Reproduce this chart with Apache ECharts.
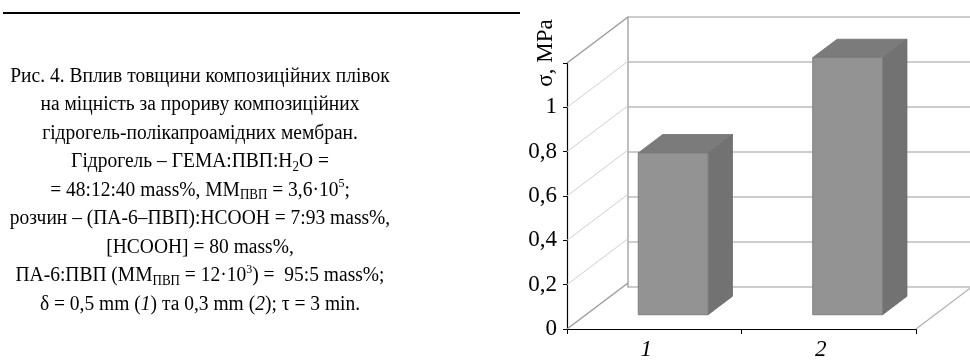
<!DOCTYPE html>
<html><head><meta charset="utf-8">
<script src="https://cdn.jsdelivr.net/npm/echarts@6.0.0/dist/echarts.min.js"></script>
<style>html,body{margin:0;padding:0;background:#fff}#c{width:970px;height:361px}</style>
</head><body><div id="c"></div>
<script>
// ---- data ----
const categories = ['1', '2'];
const strength = [0.73, 1.16];
const yTicks = [0, 0.2, 0.4, 0.6, 0.8, 1, 1.2];
const yMin = 0, yMax = 1.2, yStep = 0.2;
const axisTitle = 'σ, MPa';
const captionLines = [
  'Рис. 4. Вплив товщини композиційних плівок',
  'на міцність за прориву композиційних',
  'гідрогель-полікапроамідних мембран.',
  'Гідрогель – ГЕМА:ПВП:H{sub|2}O =',
  '= 48:12:40 mass%, ММ{sub|ПВП} = 3,6·10{sup|5};',
  'розчин – (ПА-6–ПВП):HCOOH = 7:93 mass%,',
  '[HCOOH] = 80 mass%,',
  'ПА-6:ПВП (ММ{sub|ПВП} = 12·10{sup|3}) =  95:5 mass%;',
  'δ = 0,5 mm ({it|1}) та 0,3 mm ({it|2}); τ = 3 min.'
];

// ---- style / layout ----
const SERIF = "'Liberation Serif','Times New Roman',serif";
const FRONT = {left: 567, top: 63, width: 349, height: 270};
const DX = 61, DY = -46;          // depth vector (front plane -> back wall)
const BAR_FRAC = 0.40;            // bar width / category width
const F0 = 0.31, F1 = 0.71;       // bar front / back depth fractions
const CAP_FS = 19.5;

const chart = echarts.init(document.getElementById('c'), null, {renderer: 'canvas'});

const rich = {
  sub: {fontSize: 13, fontFamily: SERIF, fill: '#000', lineHeight: 13, verticalAlign: 'bottom'},
  sup: {fontSize: 12, fontFamily: SERIF, fill: '#000', lineHeight: 11, verticalAlign: 'top'},
  it: {fontSize: CAP_FS, fontFamily: SERIF, fontStyle: 'italic', fill: '#000', lineHeight: 23}
};
const LINE0 = 76, LH = 28.5, CX = 200;
const graphics = captionLines.map((t, i) => ({
  type: 'text', x: CX, y: LINE0 + i * LH, z: 10, scaleY: 1.12,
  style: {text: t, textAlign: 'center', textVerticalAlign: 'middle', fontSize: CAP_FS,
          fontFamily: SERIF, fill: '#000', lineHeight: 23, rich: rich}
}));
graphics.push({type: 'line', shape: {x1: 3, y1: 13, x2: 520, y2: 13}, style: {stroke: '#000', lineWidth: 2}});
graphics.push({type: 'text', x: 546, y: 53, rotation: Math.PI / 2,
  style: {text: axisTitle, textAlign: 'center', textVerticalAlign: 'middle', fontSize: 23, fontFamily: SERIF, fill: '#000'}});

const fmt = v => (Math.abs(v - yMax) < 1e-9 ? '' : String(parseFloat(v.toFixed(1))).replace('.', ','));

const option = {
  animation: false,
  backgroundColor: '#fff',
  graphic: graphics,
  grid: [
    {left: FRONT.left, top: FRONT.top, width: FRONT.width, height: FRONT.height},
    {left: FRONT.left + DX, top: FRONT.top + DY, width: FRONT.width, height: FRONT.height}
  ],
  xAxis: [
    {type: 'category', gridIndex: 0, data: categories, boundaryGap: true,
     axisLine: {lineStyle: {color: '#000', width: 1.2}},
     axisTick: {show: true, length: 5, inside: false, lineStyle: {color: '#000'}},
     axisLabel: {fontSize: 23, fontFamily: SERIF, fontStyle: 'italic', color: '#000', margin: 9,
                 padding: [0, 16, 0, 0]}},
    {type: 'category', gridIndex: 1, data: categories, show: false}
  ],
  yAxis: [
    {type: 'value', gridIndex: 0, min: yMin, max: yMax, interval: yStep,
     axisLine: {show: true, lineStyle: {color: '#000', width: 1.2}},
     axisTick: {show: true, length: 4, lineStyle: {color: '#000'}},
     splitLine: {show: false},
     axisLabel: {fontSize: 23, fontFamily: SERIF, color: '#000', margin: 10, formatter: fmt}},
    {type: 'value', gridIndex: 1, min: yMin, max: yMax, interval: yStep,
     axisLine: {show: true, lineStyle: {color: '#a8a8a8', width: 1.5}},
     axisTick: {show: false}, axisLabel: {show: false},
     splitLine: {show: true, lineStyle: {color: '#bdbdbd', width: 1.5}}}
  ],
  series: [
    { // left wall diagonals
      type: 'custom', xAxisIndex: 0, yAxisIndex: 0, z: 1,
      data: yTicks.map(v => [0, v]), encode: {x: 0, y: 1},
      renderItem: function (params, api) {
        const v = api.value(1);
        const p = api.coord([0, v]);
        const x0 = p[0] - api.size([1, 0])[0] / 2;
        const edge = (v === yMin || v === yMax);
        return {type: 'line', shape: {x1: x0, y1: p[1], x2: x0 + DX, y2: p[1] + DY},
          style: {stroke: edge ? '#9c9c9c' : '#cfcfcf', lineWidth: edge ? 1.5 : 1}};
      }
    },
    { // floor right edge
      type: 'custom', xAxisIndex: 0, yAxisIndex: 0, z: 1,
      data: [[categories.length - 1, yMin]], encode: {x: 0, y: 1},
      renderItem: function (params, api) {
        const p = api.coord([api.value(0), api.value(1)]);
        const x0 = p[0] + api.size([1, 0])[0] / 2;
        return {type: 'line', shape: {x1: x0, y1: p[1], x2: x0 + DX, y2: p[1] + DY},
          style: {stroke: '#b0b0b0', lineWidth: 1.2}};
      }
    },
    { // 3D bars
      type: 'custom', xAxisIndex: 0, yAxisIndex: 0, z: 5,
      data: strength.map((v, i) => [i, v]), encode: {x: 0, y: 1},
      renderItem: function (params, api) {
        const i = api.value(0), v = api.value(1);
        const top = api.coord([i, v]);
        const base = api.coord([i, yMin]);
        const w = api.size([1, 0])[0] * BAR_FRAC;
        const xl = top[0] - w / 2 + F0 * DX, xr = xl + w;
        const yt = top[1] + F0 * DY, yb = base[1] + F0 * DY;
        const ddx = (F1 - F0) * DX, ddy = (F1 - F0) * DY;
        return {type: 'group', children: [
          {type: 'polygon', shape: {points: [[xr, yt], [xr + ddx, yt + ddy], [xr + ddx, yb + ddy], [xr, yb]]},
           style: {fill: '#727272', stroke: '#6a6a6a', lineWidth: 0.8}},
          {type: 'polygon', shape: {points: [[xl, yt], [xr, yt], [xr + ddx, yt + ddy], [xl + ddx, yt + ddy]]},
           style: {fill: '#7b7b7b', stroke: '#707070', lineWidth: 0.8}},
          {type: 'rect', shape: {x: xl, y: yt, width: w, height: yb - yt},
           style: {fill: '#939393', stroke: '#7e7e7e', lineWidth: 1}}
        ]};
      }
    }
  ]
};
chart.setOption(option);
</script></body></html>
